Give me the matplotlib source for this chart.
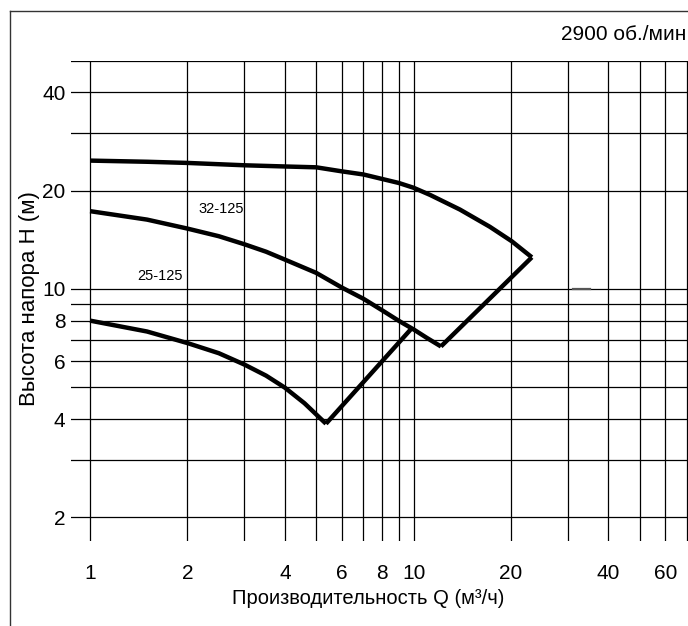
import matplotlib
matplotlib.use("Agg")
import matplotlib.pyplot as plt
from matplotlib.lines import Line2D
from matplotlib.ticker import FixedLocator, NullFormatter

plt.rcParams['font.family'] = ['Liberation Sans', 'DejaVu Sans']

# ---- data ----
upper_q = [1, 1.5, 2, 3, 4, 5, 6, 7, 8, 9, 10, 11.24, 13.9, 17.2, 20.1, 23.2]
upper_h = [24.7, 24.5, 24.3, 23.9, 23.7, 23.56, 22.9, 22.4, 21.7, 21.1, 20.4, 19.4, 17.5, 15.5, 14.0, 12.5]
upper_edge_q = [23.2, 12.15]
upper_edge_h = [12.5, 6.67]

middle_q = [1, 1.5, 2, 2.5, 3, 3.5, 4, 5, 6, 7, 8, 9, 10, 11, 12.15]
middle_h = [17.3, 16.3, 15.3, 14.5, 13.7, 13.0, 12.3, 11.2, 10.1, 9.33, 8.6, 7.99, 7.52, 7.08, 6.67]

lower_q = [1, 1.5, 2, 2.5, 3, 3.5, 4, 4.6, 5.36]
lower_h = [8.0, 7.41, 6.83, 6.36, 5.87, 5.43, 4.99, 4.47, 3.87]
lower_edge_q = [5.36, 9.89]
lower_edge_h = [3.87, 7.6]

curve_labels = ["32-125", "25-125"]
label_q = [2.55, 1.645]
label_h = [17.6, 10.94]

x_major = [1, 2, 4, 6, 8, 10, 20, 40, 60]
x_minor = [3, 5, 7, 9, 30, 50, 70]
y_major = [2, 4, 6, 8, 10, 20, 40]
y_minor = [3, 5, 7, 9, 30, 50]

speed_text = "2900 об./мин"
xlabel = "Производительность Q (м³/ч)"
ylabel = "Высота напора H (м)"

# ---- figure ----
W, H = 688, 626
fig = plt.figure(figsize=(W / 100, H / 100), dpi=100)
ax = fig.add_axes([71 / W, (626 - 540.5) / H, (688 - 71) / W, 480 / H])
ax.set_xscale('log')
ax.set_yscale('log')
ax.set_xlim(0.873, 70.5)
ax.set_ylim(1.7, 50)

for s in ax.spines.values():
    s.set_visible(False)

ax.xaxis.set_major_locator(FixedLocator(x_major))
ax.xaxis.set_minor_locator(FixedLocator(x_minor))
ax.yaxis.set_major_locator(FixedLocator(y_major))
ax.yaxis.set_minor_locator(FixedLocator(y_minor))
ax.set_xticklabels([str(v) for v in x_major])
ax.set_yticklabels([str(v) for v in y_major])
ax.xaxis.set_minor_formatter(NullFormatter())
ax.yaxis.set_minor_formatter(NullFormatter())
ax.tick_params(axis='both', which='both', length=0)
ax.tick_params(axis='x', which='major', pad=17, labelsize=15)
ax.tick_params(axis='y', which='major', pad=4, labelsize=15)
ax.grid(True, which='both', color='black', linewidth=0.9)
ax.set_axisbelow(True)

lw = 3.2
kw = dict(color='black', linewidth=lw, solid_joinstyle='miter', solid_capstyle='butt')
ax.plot(upper_q, upper_h, **kw)
ax.plot(upper_edge_q, upper_edge_h, **kw)
ax.plot(middle_q, middle_h, **kw)
ax.plot(lower_q, lower_h, **kw)
ax.plot(lower_edge_q, lower_edge_h, **kw)

# small artefact mark on the 10 m line
ax.plot([31, 35], [10, 10], color='#555555', linewidth=1.6)

for t, q, h in zip(curve_labels, label_q, label_h):
    ax.text(q, h, t, fontsize=10.5, ha='center', va='center')

fig.text(686 / W, 1 - 34 / H, speed_text, fontsize=15, ha='right', va='center')
fig.text(368 / W, 1 - 599 / H, xlabel, fontsize=14.5, ha='center', va='center')
fig.text(29.5 / W, 1 - 299 / H, ylabel, fontsize=16, ha='center', va='center', rotation=90)

# frame lines (left and top)
fig.add_artist(Line2D([9.5 / W, 9.5 / W], [0, 1 - 11 / H], transform=fig.transFigure, color='#333333', linewidth=1.0))
fig.add_artist(Line2D([9.5 / W, 1], [1 - 11 / H, 1 - 11 / H], transform=fig.transFigure, color='#333333', linewidth=1.0))

fig.savefig("out.png", dpi=100)
